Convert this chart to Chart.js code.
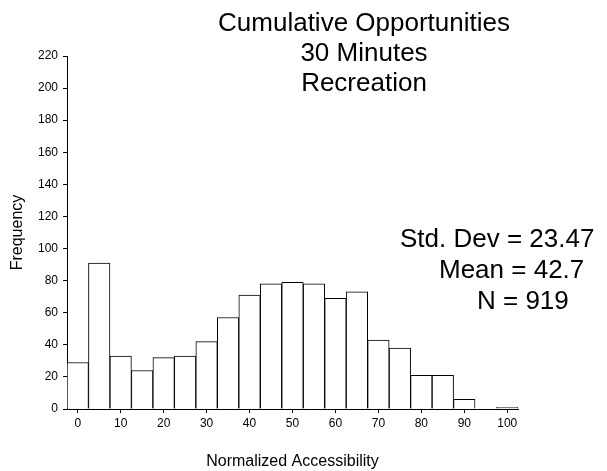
<!DOCTYPE html>
<html>
<head>
<meta charset="utf-8">
<script src="https://cdn.jsdelivr.net/npm/chart.js@4/dist/chart.umd.min.js"></script>
<style>
html,body{margin:0;padding:0;background:#fff;}
#wrap{width:607px;height:471px;position:relative;}
</style>
</head>
<body>
<div id="wrap"><canvas id="c" width="607" height="471"></canvas></div>
<script>
// Bin centres (width 5) and frequencies
const binCenters = [0,5,10,15,20,25,30,35,40,45,50,55,60,65,70,75,80,85,90,95,100];
const frequencies = [29,91,33,24,32,33,42,57,71,78,79,78,69,73,43,38,21,21,6,0,1];
const xTickValues = [0,10,20,30,40,50,60,70,80,90,100];
const titleLines = ['Cumulative Opportunities','30 Minutes','Recreation'];
const statLines = ['Std. Dev = 23.47','Mean = 42.7','N = 919'];
const xAxisTitle = 'Normalized Accessibility';
const yAxisTitle = 'Frequency';

const FONT = '"Liberation Sans", Arial, Helvetica, sans-serif';

const textPlugin = {
  id: 'texts',
  afterDraw(chart) {
    const ctx = chart.ctx;
    const area = chart.chartArea;
    ctx.save();
    // small extension of the x axis line to the left of the y axis
    ctx.strokeStyle = '#000';
    ctx.lineWidth = 1;
    ctx.beginPath();
    ctx.moveTo(area.left - 4, Math.round(area.bottom) + 0.5);
    ctx.lineTo(area.left, Math.round(area.bottom) + 0.5);
    ctx.stroke();

    ctx.fillStyle = '#000';
    ctx.font = '26px ' + FONT;
    ctx.textAlign = 'center';
    ctx.textBaseline = 'alphabetic';
    const titleY = [31, 61, 91];
    titleLines.forEach((t, i) => ctx.fillText(t, 364, titleY[i]));
    ctx.textAlign = 'left';
    const sx = [400, 439, 477];
    const sy = [246.5, 278, 308.5];
    statLines.forEach((t, i) => ctx.fillText(t, sx[i], sy[i]));
    ctx.restore();
  }
};

new Chart(document.getElementById('c'), {
  type: 'bar',
  data: {
    datasets: [{
      data: binCenters.map((b, i) => ({x: b, y: frequencies[i]})),
      backgroundColor: '#ffffff',
      borderColor: '#000000',
      borderWidth: 1,
      barPercentage: 1,
      categoryPercentage: 1
    }]
  },
  options: {
    responsive: false,
    animation: false,
    events: [],
    layout: {padding: {top: 56, right: 89, left: 0, bottom: 0}},
    plugins: {legend: {display: false}, tooltip: {enabled: false}, title: {display: false}},
    scales: {
      x: {
        type: 'linear',
        offset: false,
        min: -2.5,
        max: 102.5,
        afterBuildTicks(scale) { scale.ticks = xTickValues.map(v => ({value: v})); },
        afterFit(scale) { scale.height = 62; },
        grid: {drawOnChartArea: false, offset: false, tickLength: 4, color: '#000'},
        border: {color: '#000', width: 1},
        ticks: {color: '#000', font: {family: FONT, size: 12}, padding: 3, maxRotation: 0, autoSkip: false},
        title: {display: true, text: xAxisTitle, color: '#000', font: {family: FONT, size: 16}, padding: {top: 0, bottom: 0}}
      },
      y: {
        min: 0,
        max: 220,
        afterFit(scale) { scale.width = 67; },
        grid: {drawOnChartArea: false, tickLength: 4, color: '#000'},
        border: {color: '#000', width: 1},
        ticks: {stepSize: 20, color: '#000', font: {family: FONT, size: 12}, padding: 5},
        title: {display: true, text: yAxisTitle, color: '#000', font: {family: FONT, size: 16}, padding: {top: 8, bottom: 0}}
      }
    }
  },
  plugins: [textPlugin]
});
</script>
</body>
</html>
